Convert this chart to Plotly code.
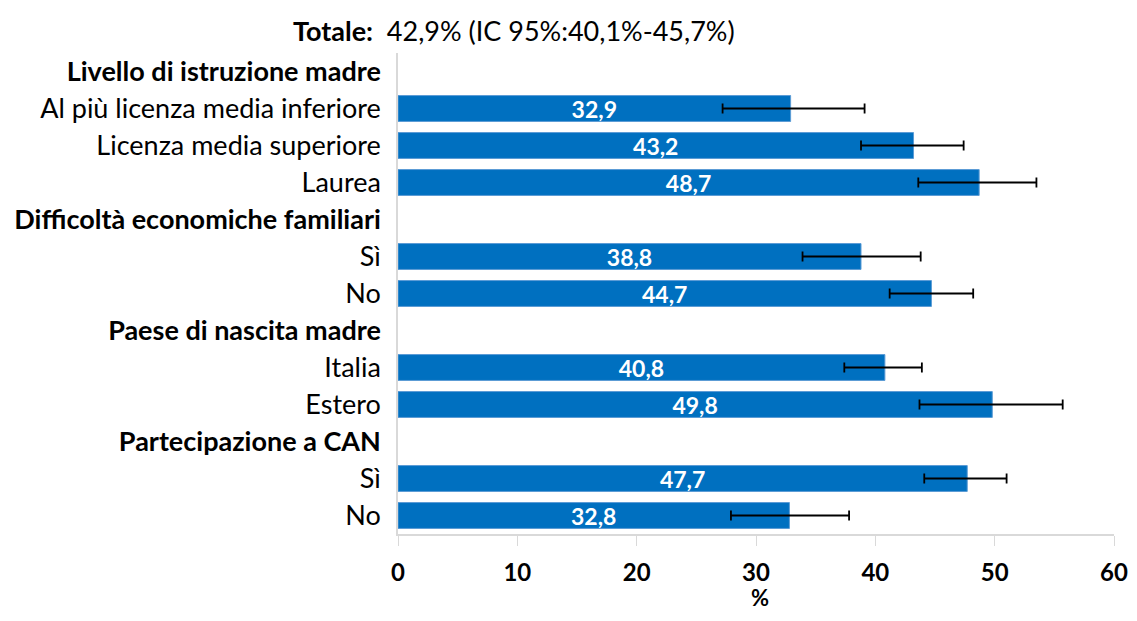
import plotly.graph_objects as go

# righe dall'alto verso il basso (None = intestazione di gruppo)
etichette = ["<b>Livello di istruzione madre</b>", "Al più licenza media inferiore",
             "Licenza media superiore", "Laurea",
             "<b>Difficoltà economiche familiari</b>", "Sì", "No",
             "<b>Paese di nascita madre</b>", "Italia", "Estero",
             "<b>Partecipazione a CAN</b>", "Sì", "No"]
valori = [None, 32.9, 43.2, 48.7, None, 38.8, 44.7, None, 40.8, 49.8, None, 47.7, 32.8]
ic_inf = [None, 27.2, 38.8, 43.6, None, 33.9, 41.2, None, 37.4, 43.7, None, 44.1, 27.9]
ic_sup = [None, 39.1, 47.4, 53.5, None, 43.8, 48.2, None, 43.9, 55.7, None, 51.0, 37.8]

pos = list(range(len(etichette)))
y_bar = [p for p, v in zip(pos, valori) if v is not None]
x_bar = [v for v in valori if v is not None]
plus = [s - v for v, s in zip(valori, ic_sup) if v is not None]
minus = [v - i for v, i in zip(valori, ic_inf) if v is not None]
testi = [f"{v:.1f}".replace(".", ",") for v in x_bar]

FONT = "Lato"

fig = go.Figure()
fig.add_trace(go.Bar(
    x=x_bar, y=y_bar, orientation="h", width=0.7,
    marker=dict(color="#0070C0", line=dict(color="#5B9BD5", width=1)),
    text=testi, textposition="inside", insidetextanchor="middle", constraintext="none",
    textfont=dict(color="white", size=23, family=FONT, weight="bold"),
    error_x=dict(type="data", symmetric=False, array=plus, arrayminus=minus,
                 color="black", thickness=1.8, width=5),
    hoverinfo="x",
))

# la pagina ha un margine di 8px attorno alla figura
fig.update_layout(
    width=1121, height=605,
    margin=dict(l=390, r=15, t=45, b=79),
    plot_bgcolor="white", paper_bgcolor="white",
    showlegend=False,
    font=dict(family=FONT, size=26, color="black"),
    annotations=[
        dict(x=0.4735, y=1.0, xref="paper", yref="paper", xanchor="right", yanchor="middle",
             yshift=23, showarrow=False,
             text="<b>Totale:</b>  42,9% (IC 95%:40,1%-45,7%)",
             font=dict(size=27, family=FONT, color="black")),
        dict(x=0.505, y=0, xref="paper", yref="paper", xanchor="center", yanchor="middle",
             yshift=-63, showarrow=False, text="<b>%</b>",
             font=dict(size=22, family=FONT, color="black")),
    ],
)
fig.update_xaxes(
    range=[0, 60], dtick=10, showgrid=False, zeroline=False, automargin=False,
    showline=True, linecolor="#D9D9D9", linewidth=1.5,
    ticks="outside", ticklen=10, tickcolor="#D9D9D9", ticklabeloverflow="allow",
    ticklabelstandoff=6,
    tickfont=dict(size=24, family=FONT, weight="bold"),
)
fig.update_yaxes(
    tickvals=pos, ticktext=etichette, autorange=False,
    range=[len(pos) - 0.5, -0.5], automargin=False,
    showgrid=False, zeroline=False, showline=True, linecolor="#D9D9D9", linewidth=1.5,
    ticks="", ticklabelstandoff=10,
    tickfont=dict(size=27, family=FONT),
)

fig.write_html("out.html")
